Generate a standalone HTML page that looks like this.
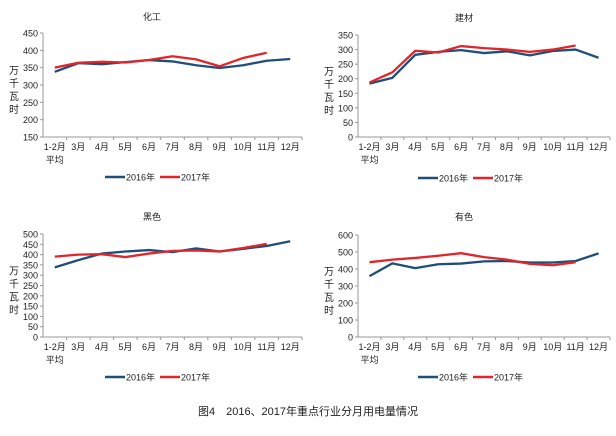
<!DOCTYPE html>
<html><head><meta charset="utf-8"><style>
body{margin:0;background:#fff;width:616px;height:431px;overflow:hidden;font-family:"Liberation Sans","Noto Sans CJK SC",sans-serif}
svg text{font-family:"Liberation Sans","Noto Sans CJK SC",sans-serif;fill:#222}
</style></head><body>
<svg id="s" width="616" height="431">
<text x="308" y="415" font-size="11" text-anchor="middle">图4　2016、2017年重点行业分月用电量情况</text>
</svg>
<script>
const categories=["1-2月","3月","4月","5月","6月","7月","8月","9月","10月","11月","12月"];
const titles=["化工","建材","黑色","有色"];
const chem2016=[338,363,360,366,372,368,357,349,357,370,375];
const chem2017=[350,364,367,365,372,383,374,354,378,393];
const build2016=[183,203,282,292,298,288,294,280,295,300,272];
const build2017=[187,222,296,290,312,305,300,292,300,314];
const ferrous2016=[338,373,405,415,422,412,430,415,428,442,465];
const ferrous2017=[390,400,402,388,405,418,420,415,432,452];
const nonferrous2016=[358,433,405,428,432,445,447,438,438,447,492];
const nonferrous2017=[440,455,465,478,493,470,455,430,422,440];
const ticks1=[150,200,250,300,350,400,450];
const ticks2=[0,50,100,150,200,250,300,350];
const ticks3=[0,50,100,150,200,250,300,350,400,450,500];
const ticks4=[0,100,200,300,400,500,600];
const series=[[chem2016,chem2017],[build2016,build2017],[ferrous2016,ferrous2017],[nonferrous2016,nonferrous2017]];
const tickSets=[ticks1,ticks2,ticks3,ticks4];
const NS="http://www.w3.org/2000/svg";
const svg=document.getElementById('s');
function mk(t,a,txt){const e=document.createElementNS(NS,t);for(const k in a)e.setAttribute(k,a[k]);if(txt!==undefined)e.textContent=txt;svg.appendChild(e);return e;}
const boxes=[{x0:43,x1:302,yt:33,yb:137,tx:152,ty:20,ly:177},{x0:358,x1:610,yt:35,yb:137,tx:464,ty:21,ly:178},{x0:43,x1:302,yt:234,yb:337,tx:152,ty:220,ly:377},{x0:358,x1:610,yt:235,yb:337,tx:464,ty:220,ly:377}];
const colors=["#1f4e79","#e0262b"];
const names=["2016年","2017年"];
boxes.forEach((b,i)=>{
  const ticks=tickSets[i],mn=ticks[0],mx=ticks[ticks.length-1];
  const yS=v=>b.yb-(v-mn)/(mx-mn)*(b.yb-b.yt);
  const step=(b.x1-b.x0)/categories.length;
  const xS=k=>b.x0+step*(k+0.5);
  let e=mk('text',{x:b.tx,y:b.ty,'font-size':9,'text-anchor':'middle'},titles[i]);
  
  e=mk('text',{x:b.x0-31,y:(b.yt+b.yb)/2-20,'font-size':10,'writing-mode':'tb','letter-spacing':'3'},'万千瓦时');
  
  ticks.forEach(t=>{
    e=mk('text',{x:b.x0-5,y:yS(t)+3.5,'font-size':9,'text-anchor':'end'},t);
    
    mk('line',{x1:b.x0-3,x2:b.x0,y1:yS(t),y2:yS(t),stroke:'#999'});
  });
  e=mk('line',{x1:b.x0,x2:b.x0,y1:b.yt,y2:b.yb,stroke:'#999'});
  
  e=mk('line',{x1:b.x0,x2:b.x1,y1:b.yb,y2:b.yb,stroke:'#999'});
  
  categories.forEach((c,k)=>{
    mk('line',{x1:b.x0+step*(k+1),x2:b.x0+step*(k+1),y1:b.yb,y2:b.yb+3,stroke:'#999'});
    e=mk('text',{x:xS(k),y:b.yb+13,'font-size':9,'text-anchor':'middle'},c);
    
  });
  e=mk('text',{x:xS(0),y:b.yb+26,'font-size':9,'text-anchor':'middle'},'平均');
  
  series[i].forEach((d,j)=>{
    const pts=d.map((v,k)=>xS(k)+','+yS(v)).join(' ');
    e=mk('polyline',{points:pts,fill:'none',stroke:colors[j],'stroke-width':2.3,'stroke-linejoin':'round'});
    
    const lx=(i%2?418:105)+j*55;
    e=mk('line',{x1:lx,x2:lx+20,y1:b.ly,y2:b.ly,stroke:colors[j],'stroke-width':2.5});
    
    e=mk('text',{x:lx+21,y:b.ly+3.5,'font-size':9},names[j]);
    
  });
});
</script>
</body></html>
